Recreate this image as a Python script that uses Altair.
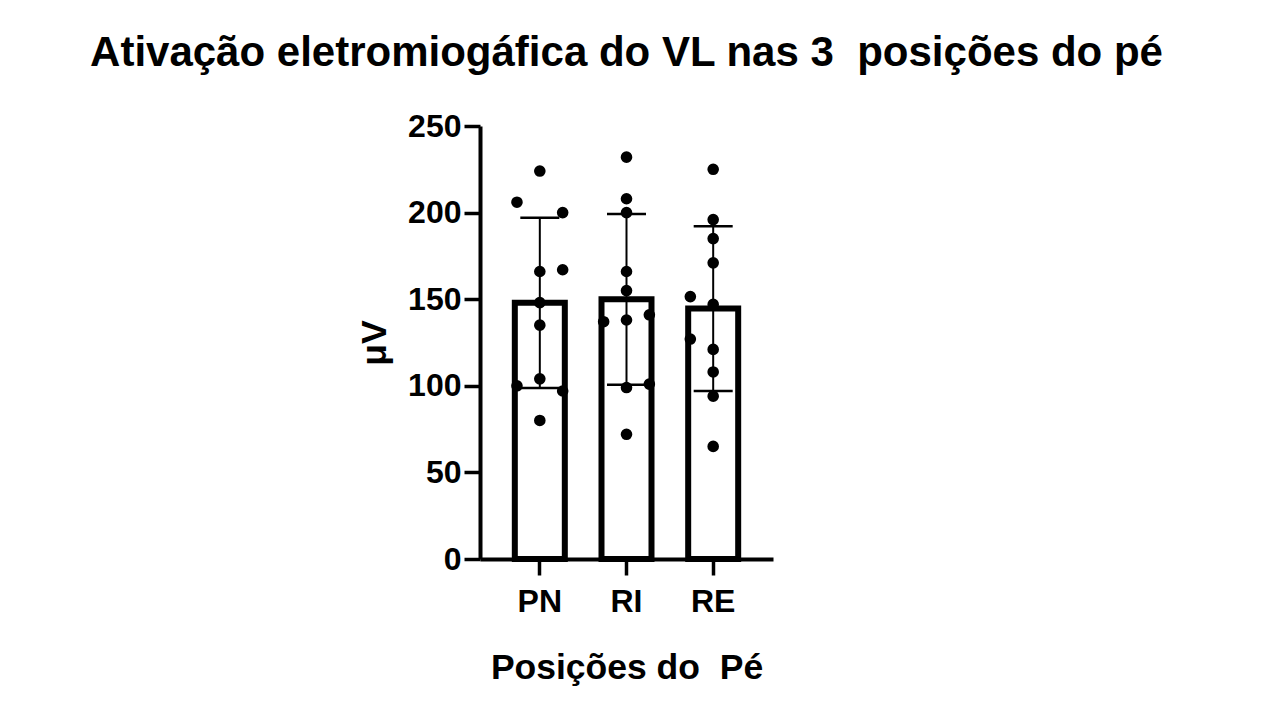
import altair as alt
import pandas as pd

categories = ["PN", "RI", "RE"]
pn_values = [224, 206, 200, 167, 166, 148, 135, 104, 100, 97, 80]
pn_cols = ["C", "L", "R", "R", "C", "C", "C", "C", "L", "R", "C"]
ri_values = [232, 208, 200, 166, 155, 137, 138, 141, 99, 101, 72]
ri_cols = ["C", "C", "C", "C", "C", "L", "C", "R", "C", "R", "C"]
re_values = [225, 196, 185, 171, 151.5, 147, 127, 121, 108, 94, 65]
re_cols = ["C", "C", "C", "C", "L", "C", "L", "C", "C", "C", "C"]

rows = []
for cat, vals, cols in zip(categories, [pn_values, ri_values, re_values], [pn_cols, ri_cols, re_cols]):
    for v, c in zip(vals, cols):
        rows.append({"pos": cat, "uv": v, "col": c})
df = pd.DataFrame(rows)

FONT = "Liberation Sans"

x_enc = alt.X(
    "pos:N",
    sort=categories,
    scale=alt.Scale(paddingInner=0.42, paddingOuter=0.4),
    axis=alt.Axis(title="Posições do \u00a0Pé", labelAngle=0),
)
y_scale = alt.Scale(domain=[0, 250], nice=False)

base = alt.Chart(df)

bars = base.mark_bar(
    fill="white", stroke="black", strokeWidth=6, size=50
).encode(
    x=x_enc,
    y=alt.Y("mean(uv):Q", scale=y_scale,
            axis=alt.Axis(title="μV", values=[0, 50, 100, 150, 200, 250])),
)

err = base.mark_errorbar(
    extent="stdev",
    ticks={"size": 39, "thickness": 2.5, "color": "black", "opacity": 1},
    rule={"strokeWidth": 2, "color": "black", "opacity": 1},
).encode(
    x=x_enc,
    y=alt.Y("uv:Q", scale=y_scale, title="μV"),
)

pts = base.mark_circle(size=135, color="black", opacity=1).encode(
    x=x_enc,
    xOffset=alt.XOffset("col:N", scale=alt.Scale(type="point", domain=["L", "C", "R"], padding=0.1)),
    y=alt.Y("uv:Q", scale=y_scale, title="μV"),
)

chart = (
    alt.layer(bars, err, pts)
    .properties(
        width=293,
        height=433,
        autosize=alt.AutoSizeParams(type="none"),
        padding={"left": 472, "top": 118, "right": 499, "bottom": 153},
        title=alt.TitleParams(
            "Ativação eletromiogáfica do VL nas 3 \u00a0posições do pé",
            font=FONT, fontSize=42, fontWeight="bold", color="black",
            anchor="middle", offset=35,
        ),
    )
    .configure_view(stroke=None)
    .configure_axis(
        grid=False,
        domainColor="black",
        domainWidth=4,
        tickColor="black",
        tickWidth=3.5,
        tickSize=16,
        labelFont=FONT,
        labelFontSize=32,
        labelFontWeight="bold",
        labelColor="black",
        titleFont=FONT,
        titleFontSize=35.5,
        titleFontWeight="bold",
        titleColor="black",
    )
    .configure_axisX(labelPadding=11, titlePadding=33)
    .configure_axisY(labelPadding=3, titlePadding=15)
)

chart.save("out.html", embed_options={"renderer": "svg", "actions": False})
